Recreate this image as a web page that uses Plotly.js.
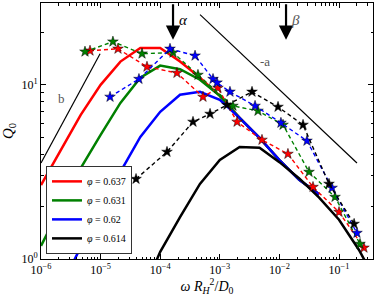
<!DOCTYPE html>
<html>
<head>
<meta charset="utf-8">
<script src="https://cdn.plot.ly/plotly-3.0.1.min.js"></script>
<style>html,body{margin:0;padding:0;background:#fff;}#chart{width:376px;height:296px;}</style>
</head>
<body>
<div id="chart"></div>
<script>
// ---- data ----
const gridX = [1e-6, 2.15e-6, 4.64e-6, 1e-5, 2.15e-5, 4.64e-5, 1e-4, 2.15e-4, 4.64e-4, 1e-3, 2.15e-3, 4.64e-3, 1e-2, 2.15e-2, 4.64e-2];

const redSolidX = gridX;
const redSolidY = [2.66, 4.23, 6.72, 10.0, 13.6, 16.3, 16.3, 13.6, 11.0, 8.65, 6.46, 4.96, 3.7, 2.85, 2.35];

const greenSolidX = gridX;
const greenSolidY = [1.19, 1.99, 3.33, 5.16, 7.88, 11.0, 12.9, 12.3, 10.7, 8.65, 6.46, 4.96, 3.7, 2.85, 2.35];

const blueSolidX = [2.15e-6, 4.64e-6, 1e-5, 2.15e-5, 4.64e-5, 1e-4, 2.15e-4, 4.64e-4, 1e-3, 2.15e-3, 4.64e-3, 1e-2, 2.15e-2, 4.64e-2];
const blueSolidY = [0.69, 1.17, 2.07, 3.16, 5.02, 7.0, 8.77, 9.12, 8.2, 6.46, 4.96, 3.7, 2.85, 2.35];

const blackSolidX = [4.64e-5, 1e-4, 2.15e-4, 4.64e-4, 1e-3, 2.15e-3, 4.64e-3, 1e-2, 2.15e-2, 4.64e-2, 0.1, 0.215, 0.464];
const blackSolidY = [0.6, 1.1, 1.74, 2.70, 3.71, 4.40, 4.35, 3.6, 2.9, 2.25, 1.68, 1.13, 0.7];

const redStarX = [6.64e-6, 1.96e-5, 6.0e-5, 1.91e-4, 5.22e-4, 9.3e-4, 1.95e-3, 5.1e-3, 1.39e-2, 3.66e-2, 0.1, 0.262];
const redStarY = [15.7, 16.1, 12.7, 11.7, 8.53, 9.6, 6.13, 4.83, 4.01, 2.59, 1.86, 1.16];

const greenStarX = [5.47e-6, 1.61e-5, 4.95e-5, 1.64e-4, 4.3e-4, 1.66e-3, 4.37e-3, 1.15e-2, 3.14e-2, 8.57e-2, 0.225];
const greenStarY = [15.5, 17.7, 15.1, 15.3, 11.4, 7.57, 7.09, 5.89, 3.16, 2.27, 1.22];

const blueStarX = [1.44e-5, 4.4e-5, 1.46e-4, 3.84e-4, 7.69e-4, 8.97e-4, 1.48e-3, 3.9e-3, 1.06e-2, 2.9e-2, 7.64e-2, 0.2];
const blueStarY = [8.53, 10.8, 16.1, 14.7, 10.8, 10.3, 9.12, 7.57, 6.05, 4.77, 2.56, 1.41];

const blackStarX = [3.93e-5, 1.30e-4, 3.55e-4, 6.86e-4, 1.32e-3, 3.47e-3, 9.48e-3, 2.49e-2, 6.79e-2, 0.179];
const blackStarY = [2.88, 4.12, 6.13, 6.81, 7.67, 9.12, 7.47, 5.89, 2.70, 1.59];

const slopeBX = [1e-6, 9.8e-6];
const slopeBY = [3.56, 15.1];
const slopeAX = [4.66e-4, 0.2];
const slopeAY = [25.3, 3.56];

const seriesNames = ['<i>φ</i> = 0.637', '<i>φ</i> = 0.631', '<i>φ</i> = 0.62', '<i>φ</i> = 0.614'];
const seriesColors = ['#ff0000', '#008000', '#0000ff', '#000000'];

const xTickVals = [1e-6, 1e-5, 1e-4, 1e-3, 1e-2, 1e-1];
const xTickText = ['10<sup>−6</sup>', '10<sup>−5</sup>', '10<sup>−4</sup>', '10<sup>−3</sup>', '10<sup>−2</sup>', '10<sup>−1</sup>'];
const yTickVals = [1, 10];
const yTickText = ['10<sup>0</sup>', '10<sup>1</sup>'];

// ---- traces ----
const solids = [[redSolidX, redSolidY], [greenSolidX, greenSolidY], [blueSolidX, blueSolidY], [blackSolidX, blackSolidY]];
const stars = [[redStarX, redStarY], [greenStarX, greenStarY], [blueStarX, blueStarY], [blackStarX, blackStarY]];

const traces = [];
solids.forEach((s, i) => {
  traces.push({x: s[0], y: s[1], mode: 'lines', name: seriesNames[i],
    line: {color: seriesColors[i], width: 2.5}, showlegend: true, hoverinfo: 'skip'});
});
stars.forEach((s, i) => {
  traces.push({x: s[0], y: s[1], mode: 'lines+markers', showlegend: false,
    line: {color: seriesColors[i], width: 1.4, dash: '4px,3px'},
    marker: {symbol: 'star', size: 8, color: seriesColors[i], line: {color: '#000', width: 0.5}},
    hoverinfo: 'skip'});
});
traces.push({x: slopeBX, y: slopeBY, mode: 'lines', showlegend: false, line: {color: '#000', width: 1.2}, hoverinfo: 'skip'});
traces.push({x: slopeAX, y: slopeAY, mode: 'lines', showlegend: false, line: {color: '#000', width: 1.2}, hoverinfo: 'skip'});

const serif = 'Liberation Serif, DejaVu Serif, serif';

const layout = {
  width: 376, height: 296,
  margin: {l: 41, r: 3, t: 3, b: 37},
  paper_bgcolor: '#fff', plot_bgcolor: '#fff',
  showlegend: true,
  font: {family: serif, color: '#000', size: 12},
  xaxis: {
    type: 'log', range: [-6, -0.43],
    tickmode: 'array', tickvals: xTickVals, ticktext: xTickText,
    ticks: 'inside', ticklen: 5, tickcolor: '#000',
    minor: {ticks: 'inside', ticklen: 2.5, dtick: 'D1', tickcolor: '#000', showgrid: false},
    showgrid: false, zeroline: false,
    showline: true, linecolor: '#000', linewidth: 1, mirror: 'ticks',
    tickfont: {family: serif, size: 12, color: '#000'},
    title: {text: '<i>ω R</i><sub><i>H</i></sub><sup>2</sup>/<i>D</i><sub>0</sub>', font: {family: serif, size: 14, color: '#000'}, standoff: 4}
  },
  yaxis: {
    type: 'log', range: [0, 1.47],
    tickmode: 'array', tickvals: yTickVals, ticktext: yTickText,
    ticks: 'inside', ticklen: 5, tickcolor: '#000',
    minor: {ticks: 'inside', ticklen: 2.5, dtick: 'D1', tickcolor: '#000', showgrid: false},
    showgrid: false, zeroline: false,
    showline: true, linecolor: '#000', linewidth: 1, mirror: 'ticks',
    tickfont: {family: serif, size: 12, color: '#000'},
    title: {text: '<i>Q</i><sub>0</sub>', font: {family: serif, size: 15, color: '#000'}, standoff: 6}
  },
  legend: {
    x: 0.015, y: 0.02, xanchor: 'left', yanchor: 'bottom',
    bgcolor: '#fff', bordercolor: '#333', borderwidth: 1,
    font: {family: serif, size: 10, color: '#000'},
    itemwidth: 30, tracegroupgap: 0
  },
  annotations: [
    {x: -3.785, y: 1.259, xref: 'x', yref: 'y', text: '', showarrow: true,
     ax: 0, ay: -37, arrowhead: 2, arrowsize: 1.3, arrowwidth: 2.2, arrowcolor: '#000'},
    {x: -1.889, y: 1.259, xref: 'x', yref: 'y', text: '', showarrow: true,
     ax: 0, ay: -37, arrowhead: 2, arrowsize: 1.3, arrowwidth: 2.2, arrowcolor: '#000'},
    {x: -3.617, y: 1.374, xref: 'x', yref: 'y', text: '<i>α</i>', showarrow: false,
     font: {family: serif, size: 15, color: '#000'}},
    {x: -1.738, y: 1.374, xref: 'x', yref: 'y', text: '<i>β</i>', showarrow: false,
     font: {family: serif, size: 15, color: '#555'}},
    {x: -5.664, y: 0.92, xref: 'x', yref: 'y', text: 'b', showarrow: false,
     font: {family: serif, size: 13, color: '#555'}},
    {x: -2.242, y: 1.132, xref: 'x', yref: 'y', text: '-a', showarrow: false,
     font: {family: serif, size: 13, color: '#555'}}
  ]
};

Plotly.newPlot('chart', traces, layout, {staticPlot: true, displayModeBar: false});
</script>
</body>
</html>
